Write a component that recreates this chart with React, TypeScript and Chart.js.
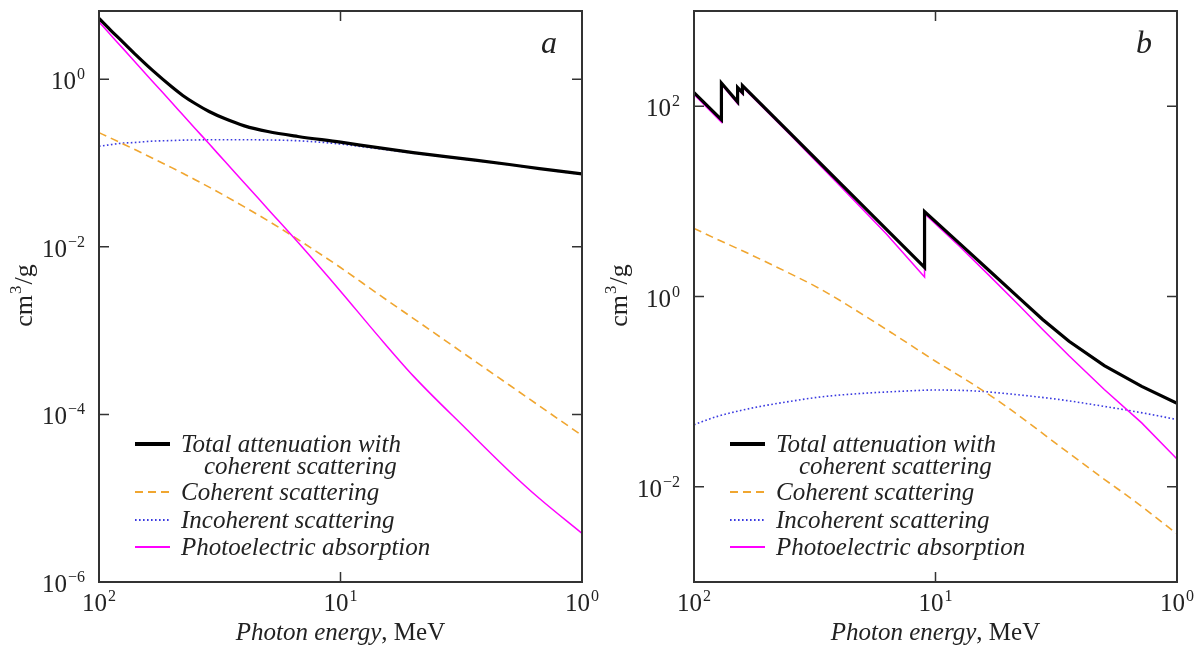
import React, { useEffect, useRef } from "react";
import { Chart, registerables } from "chart.js";

Chart.register(...registerables);

const FONT = '"Liberation Serif", "Times New Roman", Times, serif';

// ---------------- shared ----------------
const xTickValues = [100, 10, 1];
const legendLabels: string[][] = [
  ["Total attenuation with", "coherent scattering"],
  ["Coherent scattering"],
  ["Incoherent scattering"],
  ["Photoelectric absorption"],
];
const xTitleItalic = "Photon energy";
const xTitleRegular = ", MeV";

// ---------------- panel a ----------------
const aEnergy = [100, 90, 80, 70, 60, 50, 45, 40, 35, 30, 25, 20, 15, 10, 7, 5, 3, 2, 1.5, 1];
const aTotal = [5.3, 3.9, 2.8, 1.92, 1.27, 0.81, 0.639, 0.512, 0.411, 0.336, 0.277, 0.237, 0.207, 0.177, 0.152, 0.133, 0.111, 0.0958, 0.0855, 0.074];
const aCoherent = [0.23, 0.1995, 0.17, 0.1416, 0.114, 0.0879, 0.0752, 0.0631, 0.0514, 0.0403, 0.0299, 0.0205, 0.0122, 0.00565, 0.00274, 0.0014, 0.000504, 0.000224, 0.000126, 0.000056];
const aIncoherent = [0.158, 0.165, 0.172, 0.176, 0.182, 0.185, 0.187, 0.188, 0.189, 0.189, 0.189, 0.188, 0.184, 0.168, 0.148, 0.131, 0.11, 0.095, 0.085, 0.073];
const aPhoto = [4.8, 3.43, 2.36, 1.54, 0.94, 0.527, 0.376, 0.258, 0.169, 0.103, 0.0578, 0.0283, 0.0113, 0.00295, 0.00087, 0.000288, 0.000066, 0.000021, 0.0000099, 0.0000038];
const aYTicks = [1, 1e-2, 1e-4, 1e-6];

// ---------------- panel b ----------------
const bEdgeEnergy = [100, 77, 77, 66, 66, 63, 63, 40, 25, 16, 11.1, 11.1, 8, 6, 4.5, 3.6, 2.8, 2, 1.4, 1];
const bTotal = [139, 72, 175, 111, 157, 139, 164, 52, 15.8, 5.1, 2.02, 7.8, 3.66, 1.875, 0.962, 0.573, 0.338, 0.1875, 0.1138, 0.0753];
const bPhoto = [133, 68, 170, 106, 152, 134, 159, 50.2, 14.8, 4.56, 1.6, 7.4, 3.41, 1.667, 0.804, 0.45, 0.238, 0.1055, 0.047, 0.0196];
const bScatEnergy = [100, 80, 63, 50, 40, 30, 20, 15, 10, 7, 5, 3, 2, 1.5, 1];
const bCoherent = [5.2, 3.98, 3.02, 2.29, 1.74, 1.2, 0.646, 0.407, 0.209, 0.12, 0.0676, 0.0257, 0.012, 0.0071, 0.0032];
const bIncoherent = [0.045, 0.055, 0.064, 0.072, 0.079, 0.088, 0.096, 0.1, 0.104, 0.102, 0.095, 0.082, 0.07, 0.062, 0.051];
const bYTicks = [100, 1, 1e-2];

// ---------------- styles ----------------
const STY = {
  total: { color: "#000000", width: 3.2, dash: [] as number[] },
  coherent: { color: "#f0a630", width: 1.6, dash: [8, 5] },
  incoherent: { color: "#3a3ae0", width: 1.6, dash: [1.6, 2.4] },
  photo: { color: "#ff00ff", width: 1.5, dash: [] as number[] },
};

function pts(xs: number[], ys: number[]) {
  return xs.map((x, i) => ({ x, y: ys[i] }));
}

function expOf(v: number) {
  const e = Math.round(Math.log10(v));
  return e < 0 ? "\u2212" + String(-e) : String(e);
}

function drawPow(ctx: CanvasRenderingContext2D, exp: string, x: number, y: number, align: "right" | "center") {
  ctx.textAlign = "left";
  ctx.textBaseline = "alphabetic";
  ctx.font = `25px ${FONT}`;
  const bw = ctx.measureText("10").width;
  ctx.font = `16px ${FONT}`;
  const sw = ctx.measureText(exp).width;
  const total = bw + 1 + sw;
  const x0 = align === "right" ? x - total : x - total / 2;
  ctx.font = `25px ${FONT}`;
  ctx.fillText("10", x0, y);
  ctx.font = `16px ${FONT}`;
  ctx.fillText(exp, x0 + bw + 1, y - 10);
}

type PanelDef = {
  letter: string;
  yMin: number;
  yMax: number;
  yTicks: number[];
  left: number;
  right: number;
  width: number;
  datasets: any[];
};

function panelPlugin(p: PanelDef) {
  return {
    id: "panel_" + p.letter,
    afterDraw(chart: any) {
      const ctx: CanvasRenderingContext2D = chart.ctx;
      const ca = chart.chartArea;
      const xs = chart.scales.x;
      const ys = chart.scales.y;
      ctx.save();
      ctx.fillStyle = "#222";
      ctx.strokeStyle = "#333";
      // frame
      ctx.lineWidth = 2;
      ctx.setLineDash([]);
      ctx.strokeRect(ca.left, ca.top, ca.right - ca.left, ca.bottom - ca.top);
      // y ticks
      ctx.lineWidth = 1.5;
      p.yTicks.forEach((v) => {
        const py = ys.getPixelForValue(v);
        ctx.beginPath();
        ctx.moveTo(ca.left, py);
        ctx.lineTo(ca.left + 10, py);
        ctx.moveTo(ca.right, py);
        ctx.lineTo(ca.right - 10, py);
        ctx.stroke();
        drawPow(ctx, expOf(v), ca.left - 14, py + 10, "right");
      });
      // x ticks
      xTickValues.forEach((v) => {
        const px = xs.getPixelForValue(v);
        ctx.beginPath();
        ctx.moveTo(px, ca.bottom);
        ctx.lineTo(px, ca.bottom - 10);
        ctx.moveTo(px, ca.top);
        ctx.lineTo(px, ca.top + 10);
        ctx.stroke();
        drawPow(ctx, expOf(v), px, ca.bottom + 29, "center");
      });
      // x title
      ctx.textBaseline = "alphabetic";
      ctx.textAlign = "left";
      ctx.font = `italic 25px ${FONT}`;
      const iw = ctx.measureText(xTitleItalic).width;
      ctx.font = `25px ${FONT}`;
      const rw = ctx.measureText(xTitleRegular).width;
      const cx = (ca.left + ca.right) / 2;
      const tx0 = cx - (iw + rw) / 2;
      ctx.font = `italic 25px ${FONT}`;
      ctx.fillText(xTitleItalic, tx0, ca.bottom + 58);
      ctx.font = `25px ${FONT}`;
      ctx.fillText(xTitleRegular, tx0 + iw, ca.bottom + 58);
      // y title
      ctx.save();
      ctx.translate(ca.left - 75, (ca.top + ca.bottom) / 2);
      ctx.rotate(-Math.PI / 2);
      ctx.font = `26px ${FONT}`;
      const w1 = ctx.measureText("cm").width;
      ctx.font = `17px ${FONT}`;
      const w2 = ctx.measureText("3").width;
      ctx.font = `26px ${FONT}`;
      const w3 = ctx.measureText("/g").width;
      const yx0 = -(w1 + w2 + w3) / 2;
      ctx.fillText("cm", yx0, 8);
      ctx.font = `17px ${FONT}`;
      ctx.fillText("3", yx0 + w1 + 1, -3);
      ctx.font = `26px ${FONT}`;
      ctx.fillText("/g", yx0 + w1 + w2 + 2, 8);
      ctx.restore();
      // panel letter
      ctx.font = `italic 32px ${FONT}`;
      ctx.textAlign = "center";
      ctx.fillText(p.letter, ca.right - 33, ca.top + 42);
      // legend
      const styles = [STY.total, STY.coherent, STY.incoherent, STY.photo];
      const rowY = [444, 492, 520, 547];
      const lx0 = ca.left + 36;
      const lx1 = ca.left + 71;
      const tx = ca.left + 82;
      legendLabels.forEach((lines, i) => {
        const st = styles[i];
        const y = rowY[i];
        ctx.save();
        ctx.strokeStyle = st.color;
        ctx.lineWidth = i === 0 ? 4 : 2;
        ctx.setLineDash(st.dash);
        ctx.beginPath();
        ctx.moveTo(lx0, y);
        ctx.lineTo(lx1, y);
        ctx.stroke();
        ctx.restore();
        ctx.fillStyle = "#222";
        ctx.font = `italic 25px ${FONT}`;
        ctx.textAlign = "left";
        ctx.textBaseline = "alphabetic";
        lines.forEach((t, j) => {
          ctx.fillText(t, j === 0 ? tx : tx + 23, y + 8 + j * 22);
        });
      });
      ctx.restore();
    },
  };
}

function makeDataset(label: string, data: any[], st: any, order: number, smooth: boolean) {
  return {
    label,
    data,
    showLine: true,
    borderColor: st.color,
    backgroundColor: st.color,
    borderWidth: st.width,
    borderDash: st.dash,
    pointRadius: 0,
    fill: false,
    order,
    tension: 0,
    cubicInterpolationMode: smooth ? "monotone" : "default",
  };
}

function PanelChart({ p, style }: { p: PanelDef; style: React.CSSProperties }) {
  const ref = useRef<HTMLCanvasElement | null>(null);
  useEffect(() => {
    if (!ref.current) return;
    const chart = new Chart(ref.current, {
      type: "scatter",
      data: { datasets: p.datasets },
      options: {
        animation: false,
        responsive: false,
        maintainAspectRatio: false,
        layout: { padding: { left: 0, top: 11, right: p.width - p.right, bottom: 0 } },
        plugins: { legend: { display: false }, tooltip: { enabled: false } },
        elements: { point: { radius: 0 } },
        scales: {
          x: {
            type: "logarithmic",
            min: 1,
            max: 100,
            reverse: true,
            grid: { display: false },
            border: { display: false },
            ticks: { display: false },
            afterFit: (s: any) => {
              s.height = 68;
            },
          },
          y: {
            type: "logarithmic",
            min: p.yMin,
            max: p.yMax,
            grid: { display: false },
            border: { display: false },
            ticks: { display: false },
            afterFit: (s: any) => {
              s.width = p.left;
            },
          },
        },
      } as any,
      plugins: [panelPlugin(p)],
    });
    return () => chart.destroy();
  }, []);
  return <canvas ref={ref} width={p.width} height={650} style={style} />;
}

const panelA: PanelDef = {
  letter: "a",
  yMin: 1e-6,
  yMax: 6.5,
  yTicks: aYTicks,
  left: 99,
  right: 582,
  width: 600,
  datasets: [
    makeDataset("Total attenuation with coherent scattering", pts(aEnergy, aTotal), STY.total, 0, true),
    makeDataset("Photoelectric absorption", pts(aEnergy, aPhoto), STY.photo, 1, true),
    makeDataset("Coherent scattering", pts(aEnergy, aCoherent), STY.coherent, 2, true),
    makeDataset("Incoherent scattering", pts(aEnergy, aIncoherent), STY.incoherent, 3, true),
  ],
};

const panelB: PanelDef = {
  letter: "b",
  yMin: 1e-3,
  yMax: 1e3,
  yTicks: bYTicks,
  left: 94,
  right: 577,
  width: 601,
  datasets: [
    makeDataset("Total attenuation with coherent scattering", pts(bEdgeEnergy, bTotal), STY.total, 0, false),
    makeDataset("Photoelectric absorption", pts(bEdgeEnergy, bPhoto), STY.photo, 1, false),
    makeDataset("Coherent scattering", pts(bScatEnergy, bCoherent), STY.coherent, 2, true),
    makeDataset("Incoherent scattering", pts(bScatEnergy, bIncoherent), STY.incoherent, 3, true),
  ],
};

export default function App() {
  return (
    <div style={{ position: "absolute", left: 0, top: 0, width: 1201, height: 650, background: "#fff" }}>
      <PanelChart p={panelA} style={{ position: "absolute", left: 0, top: 0 }} />
      <PanelChart p={panelB} style={{ position: "absolute", left: 600, top: 0 }} />
    </div>
  );
}
